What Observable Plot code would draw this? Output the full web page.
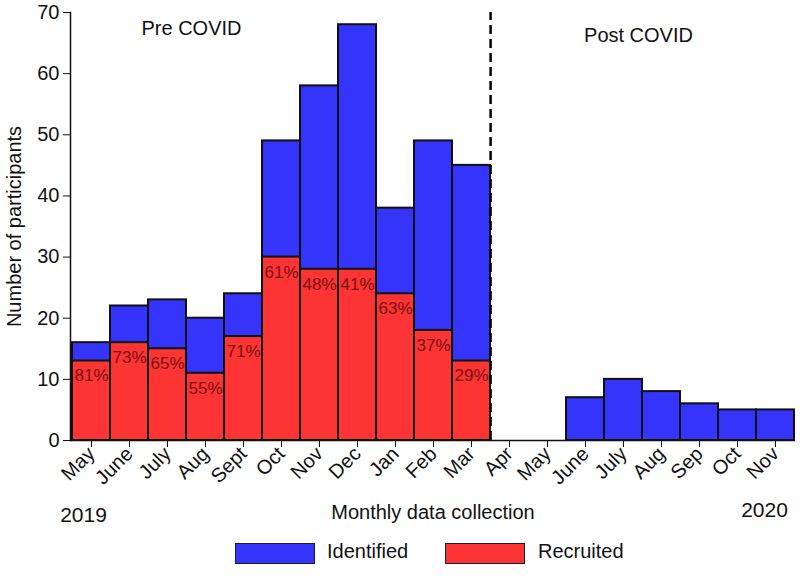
<!DOCTYPE html>
<html>
<head>
<meta charset="utf-8">
<script src="https://cdn.jsdelivr.net/npm/d3@7"></script>
<script src="https://cdn.jsdelivr.net/npm/@observablehq/plot@0.6"></script>
<style>
  html, body { margin: 0; padding: 0; background: #fff; }
  body { width: 800px; height: 581px; overflow: hidden; font-family: "Liberation Sans", Arial, sans-serif; }
  #chart svg { display: block; }
  #legend { position: relative; height: 46px; }
  .sw { position: absolute; top: 8px; width: 78px; height: 19px; border: 1.5px solid #1a1a3a; box-sizing: content-box; }
  .lt { position: absolute; top: 5px; font-size: 20px; color: #111; }
</style>
</head>
<body>
<div id="chart"></div>
<div id="legend"></div>
<script>
// ---- data ----
const months = ["May 2019","June 2019","July 2019","Aug 2019","Sept 2019","Oct 2019","Nov 2019","Dec 2019","Jan 2020","Feb 2020","Mar 2020","Apr 2020","May 2020","June 2020","July 2020","Aug 2020","Sep 2020","Oct 2020","Nov 2020"];
const identified = [16, 22, 23, 20, 24, 49, 58, 68, 38, 49, 45, 0, 0, 7, 10, 8, 6, 5, 5];
const recruited = [13, 16, 15, 11, 17, 30, 28, 28, 24, 18, 13, null, null, null, null, null, null, null, null];
const recruitedPct = ["81%","73%","65%","55%","71%","61%","48%","41%","63%","37%","29%", null, null, null, null, null, null, null, null];
const yTicks = [0, 10, 20, 30, 40, 50, 60, 70];
const preLabel = {label: "Pre COVID", month: "Aug 2019", value: 67.4};
const postLabel = {label: "Post COVID", month: "July 2020", value: 66.3};
const year2019 = {label: "2019", month: "May 2019"};
const year2020 = {label: "2020", month: "Nov 2020"};
const covidBoundary = "Mar 2020";

const blue = "#3434fb";
const red = "#fc3434";

const rows = months.map((m, i) => ({month: m, identified: identified[i], recruited: recruited[i], pct: recruitedPct[i]}));
const recRows = rows.filter(d => d.recruited != null);
const idRows = rows.filter(d => d.identified > 0);

const W = 800, ML = 70, MR = 5;
const bw = (W - ML - MR) / months.length;

const chart = Plot.plot({
  width: W,
  height: 535,
  marginLeft: ML,
  marginRight: MR,
  marginTop: 12,
  marginBottom: 95,
  style: {fontFamily: "'Liberation Sans', Arial, sans-serif", color: "#111", background: "#fff"},
  x: {domain: months, padding: 0},
  y: {domain: [0, 70]},
  marks: [
    Plot.barY(idRows, {x: "month", y: "identified", fill: blue, stroke: "#111", strokeWidth: 2, inset: 0}),
    Plot.barY(recRows, {x: "month", y: "recruited", fill: red, stroke: "#111", strokeWidth: 2, inset: 0}),
    Plot.text(recRows, {x: "month", y: "recruited", text: "pct", dy: 15, fill: "#7a1212", fontSize: 17}),
    Plot.ruleX([covidBoundary], {dx: bw / 2, y1: 0, y2: 70, stroke: "#000", strokeWidth: 2.5, strokeDasharray: "9,5"}),
    Plot.text([preLabel], {x: "month", y: "value", text: "label", dx: -14, fontSize: 20, fill: "#111"}),
    Plot.text([postLabel], {x: "month", y: "value", text: "label", dx: 15, fontSize: 20, fill: "#111"}),
    Plot.text([year2019], {x: "month", y: () => 0, text: "label", dy: 75, dx: -8, fontSize: 21, fill: "#111"}),
    Plot.text([year2020], {x: "month", y: () => 0, text: "label", dy: 70, dx: -11, fontSize: 21, fill: "#111"}),
    Plot.ruleY([0], {stroke: "#111", strokeWidth: 1.5}),
    Plot.frame({anchor: "left", stroke: "#111", strokeWidth: 1.5}),
    Plot.axisY({ticks: yTicks, tickSize: 7, tickPadding: 4, fontSize: 20, label: "Number of participants", labelAnchor: "center", labelOffset: 64, labelArrow: false}),
    Plot.axisX({tickFormat: d => d.split(" ")[0], tickRotate: -45, tickSize: 7, tickPadding: 3, fontSize: 20, label: "Monthly data collection", labelAnchor: "center", labelOffset: 78, labelArrow: false})
  ]
});
document.getElementById("chart").appendChild(chart);

// legend below
const legend = document.getElementById("legend");
const items = [
  {label: "Identified", color: blue, sx: 235, tx: 327},
  {label: "Recruited", color: red, sx: 445, tx: 538}
];
for (const it of items) {
  const s = document.createElement("div");
  s.className = "sw"; s.style.left = it.sx + "px"; s.style.background = it.color;
  legend.appendChild(s);
  const t = document.createElement("div");
  t.className = "lt"; t.style.left = it.tx + "px"; t.textContent = it.label;
  legend.appendChild(t);
}
</script>
</body>
</html>
